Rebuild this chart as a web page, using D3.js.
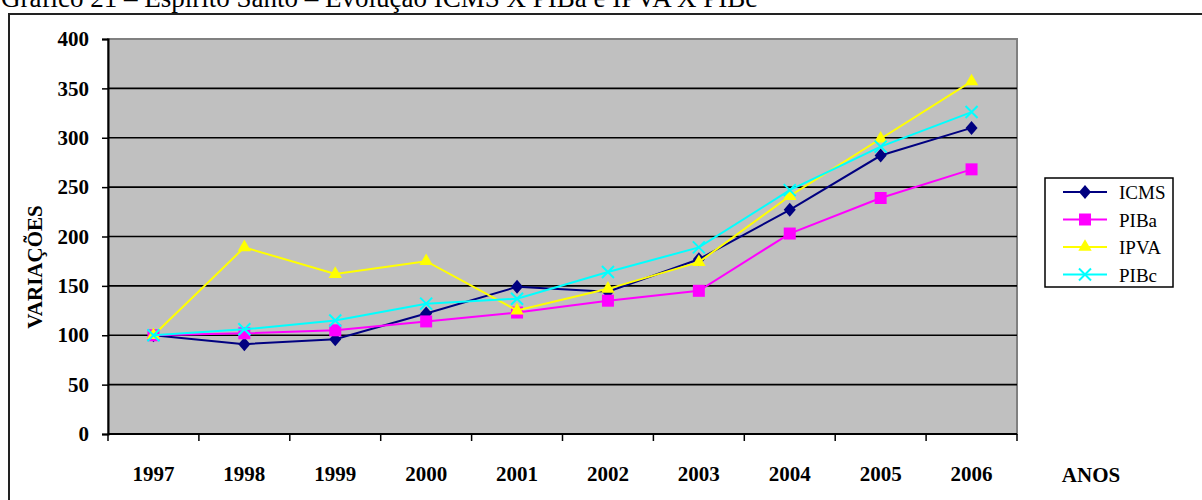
<!DOCTYPE html>
<html>
<head>
<meta charset="UTF-8">
<title>Grafico 21</title>
<script src="https://cdn.jsdelivr.net/npm/d3@7"></script>
<style type="text/css">
    body { margin: 0; background: #fff; }
    svg text { font-family: "Times New Roman", "Liberation Serif", serif; }
    .tick-label { font-size: 21px; font-weight: bold; }
</style>
</head>
<body>
<script type="text/javascript">
    // data
    var years = ["1997", "1998", "1999", "2000", "2001", "2002", "2003", "2004", "2005", "2006"];
    var icms = [100, 91, 96, 122, 149, 144, 177, 227, 282, 310];
    var piba = [100, 102, 105, 114, 123, 135, 145, 203, 239, 268];
    var ipva = [100, 189, 162, 175, 125, 147, 174, 241, 299, 357];
    var pibc = [100, 106, 115, 132, 137, 164, 189, 247, 291, 326];
    var yTicks = [0, 50, 100, 150, 200, 250, 300, 350, 400];

    var series = [
        {name: "ICMS", values: icms, color: "#000080", marker: "diamond"},
        {name: "PIBa", values: piba, color: "#ff00ff", marker: "square"},
        {name: "IPVA", values: ipva, color: "#ffff00", marker: "triangle"},
        {name: "PIBc", values: pibc, color: "#00ffff", marker: "cross"}
    ];

    var width = 1202,
        height = 500,
        plotLeft = 108, plotRight = 1017,
        plotTop = 39, plotBottom = 434;

    var x = d3.scaleBand().domain(years).range([plotLeft, plotRight]).padding(0),
        y = d3.scaleLinear().domain([0, 400]).range([plotBottom, plotTop]);

    var svg = d3.select("body").append("svg")
        .attr("width", width)
        .attr("height", height);

    // title, mostly cut off at the top of the page
    svg.append("text")
        .attr("x", 1).attr("y", 7)
        .style("font-size", "27px")
        .text("Gráfico 21 – Espírito Santo – Evolução ICMS X PIBa e IPVA X PIBc");

    // outer frame
    svg.append("rect")
        .attr("x", 9).attr("y", 14)
        .attr("width", 1200).attr("height", 500)
        .attr("fill", "none").attr("stroke", "#222").attr("stroke-width", 2);

    // plot area
    svg.append("rect")
        .attr("x", plotLeft).attr("y", plotTop)
        .attr("width", plotRight - plotLeft).attr("height", plotBottom - plotTop)
        .attr("fill", "#c0c0c0")
        .attr("stroke", "#808080").attr("stroke-width", 2);

    svg.append("g").selectAll("line")
        .data(yTicks.filter(function(d){ return d > 0 && d < 400; }))
      .enter().append("line")
        .attr("x1", plotLeft).attr("x2", plotRight)
        .attr("y1", function(d){ return y(d); })
        .attr("y2", function(d){ return y(d); })
        .attr("stroke", "#000").attr("stroke-width", 1.6);

    renderAxes();
    series.forEach(renderSeries);
    renderLegend();

    function markerPath(type){
        if (type === "diamond") return "M0,-7L6,0L0,7L-6,0Z";
        if (type === "square") return d3.symbol().type(d3.symbolSquare).size(144)();
        if (type === "triangle") return d3.symbol().type(d3.symbolTriangle).size(78)();
        var s = 6;
        return "M" + (-s) + "," + (-s) + "L" + s + "," + s + "M" + (-s) + "," + s + "L" + s + "," + (-s);
    }

    function renderSeries(s){
        var line = d3.line()
            .x(function(d, i){ return x(years[i]) + x.bandwidth() / 2; })
            .y(function(d){ return y(d); });

        svg.append("path")
            .datum(s.values)
            .attr("d", line)
            .attr("fill", "none")
            .attr("stroke", s.color)
            .attr("stroke-width", 2);

        svg.append("g").selectAll("path")
            .data(s.values)
          .enter().append("path")
            .attr("transform", function(d, i){
                return "translate(" + (x(years[i]) + x.bandwidth() / 2) + "," + y(d) + ")";
            })
            .attr("d", markerPath(s.marker))
            .attr("fill", s.marker === "cross" ? "none" : s.color)
            .attr("stroke", s.color)
            .attr("stroke-width", s.marker === "cross" ? 2 : 0);
    }

    function renderAxes(){
        var yAxis = d3.axisLeft(y).tickValues(yTicks).tickSize(6).tickPadding(13);
        var gy = svg.append("g")
            .attr("transform", "translate(" + plotLeft + ",0)")
            .call(yAxis);
        gy.select(".domain").attr("stroke", "#000").attr("stroke-width", 2);
        gy.selectAll(".tick line").attr("stroke", "#000").attr("stroke-width", 1.5);
        gy.selectAll(".tick text").attr("class", "tick-label").attr("fill", "#000").attr("font-family", null).attr("font-size", null);

        var gx = svg.append("g")
            .attr("transform", "translate(0," + plotBottom + ")");
        gx.append("line")
            .attr("x1", plotLeft).attr("x2", plotRight)
            .attr("stroke", "#000").attr("stroke-width", 2);
        gx.selectAll("line.tk")
            .data(years.concat(["end"]))
          .enter().append("line")
            .attr("class", "tk")
            .attr("x1", function(d, i){ return plotLeft + i * x.step(); })
            .attr("x2", function(d, i){ return plotLeft + i * x.step(); })
            .attr("y1", 0).attr("y2", 7)
            .attr("stroke", "#000").attr("stroke-width", 1.5);
        gx.selectAll("text")
            .data(years)
          .enter().append("text")
            .attr("class", "tick-label")
            .attr("x", function(d){ return x(d) + x.bandwidth() / 2; })
            .attr("y", 47)
            .attr("text-anchor", "middle")
            .text(function(d){ return d; });

        svg.append("text")
            .attr("transform", "translate(42,267) rotate(-90)")
            .attr("text-anchor", "middle")
            .style("font-size", "21px").style("font-weight", "bold")
            .text("VARIAÇÕES");

        svg.append("text")
            .attr("x", 1091).attr("y", 482)
            .attr("text-anchor", "middle")
            .style("font-size", "21px").style("font-weight", "bold")
            .text("ANOS");
    }

    function renderLegend(){
        var lg = svg.append("g").attr("transform", "translate(1045,178)");
        lg.append("rect")
            .attr("width", 128).attr("height", 109)
            .attr("fill", "#fff")
            .attr("stroke", "#000").attr("stroke-width", 1.5);
        var item = lg.selectAll("g.item")
            .data(series)
          .enter().append("g")
            .attr("class", "item")
            .attr("transform", function(d, i){ return "translate(0," + (14 + i * 27.5) + ")"; });
        item.append("line")
            .attr("x1", 18).attr("x2", 62)
            .attr("stroke", function(d){ return d.color; })
            .attr("stroke-width", 2);
        item.append("path")
            .attr("transform", "translate(40,0)")
            .attr("d", function(d){ return markerPath(d.marker); })
            .attr("fill", function(d){ return d.marker === "cross" ? "none" : d.color; })
            .attr("stroke", function(d){ return d.color; })
            .attr("stroke-width", function(d){ return d.marker === "cross" ? 2 : 0; });
        item.append("text")
            .attr("x", 74).attr("y", 7)
            .style("font-size", "19px")
            .text(function(d){ return d.name; });
    }
</script>
</body>
</html>
